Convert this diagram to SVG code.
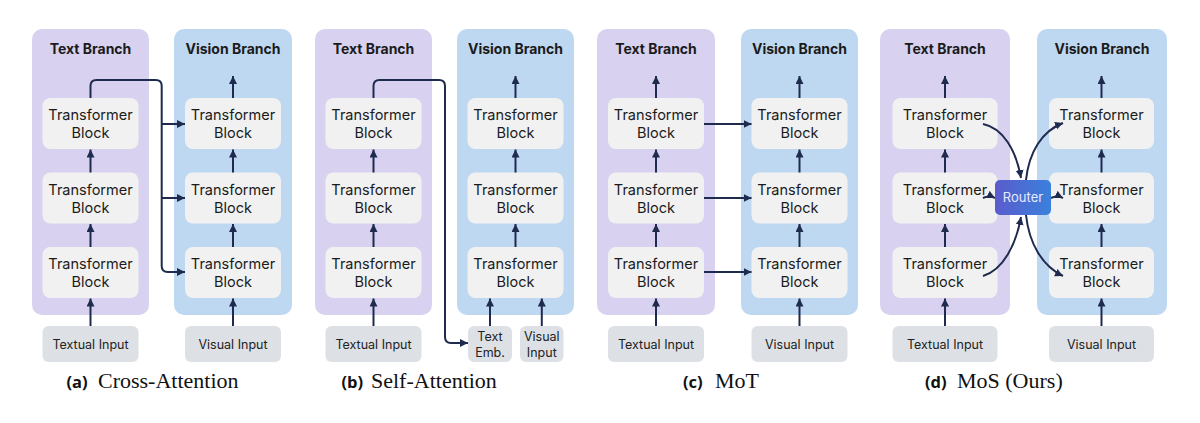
<svg xmlns="http://www.w3.org/2000/svg" width="1200" height="423" viewBox="0 0 1200 423">
<defs>
<marker id="ah" markerUnits="userSpaceOnUse" markerWidth="10" markerHeight="10" refX="8" refY="4" orient="auto">
<path d="M0,0 L8,4 L0,8 Z" fill="#1f2b4e"/>
</marker>
<linearGradient id="rg" x1="0" y1="0" x2="1" y2="0">
<stop offset="0" stop-color="#5a5ccc"/>
<stop offset="1" stop-color="#3a80dc"/>
</linearGradient>
<style>
.pt{fill:#d8d2f0}
.pv{fill:#bfd8f2}
.blk{fill:#f1f1f1}
.inp{fill:#dde1e5}
.ttl{font-family:Inter,"Noto Sans",sans-serif;font-weight:700;font-size:14px;fill:#1b1b1b;text-anchor:middle}
.lb{font-family:Inter,"Noto Sans",sans-serif;font-size:14.5px;fill:#1b1b1b;text-anchor:middle}
.il{font-family:Inter,"Noto Sans",sans-serif;font-size:12.5px;fill:#222;text-anchor:middle}
.ar{fill:none;stroke:#1f2b4e;stroke-width:2;marker-end:url(#ah)}
.cl{font-family:"Open Sans","Noto Sans",sans-serif;font-weight:700;font-size:16.5px;fill:#111}
.cs{font-family:"Liberation Serif",serif;font-size:22px;fill:#111}
.rt{font-family:Inter,"Noto Sans",sans-serif;font-size:13px;fill:#e6eaff;text-anchor:middle}
</style>
</defs>
<rect width="1200" height="423" fill="#ffffff"/>

<!-- Panel (a) -->
<g id="a-text-branch">
<rect class="pt" x="32" y="29" width="117" height="286" rx="10"/>
<text class="ttl" x="90.5" y="54">Text Branch</text>
</g>
<g id="a-vision-branch">
<rect class="pv" x="174" y="29" width="118" height="286" rx="10"/>
<text class="ttl" x="233" y="54">Vision Branch</text>
</g>
<g id="a-t1"><rect class="blk" x="42.5" y="98" width="96" height="51" rx="8"/><text class="lb" x="90.5" y="120">Transformer</text><text class="lb" x="90.5" y="138">Block</text></g>
<g id="a-t2"><rect class="blk" x="42.5" y="172.5" width="96" height="51" rx="8"/><text class="lb" x="90.5" y="194.5">Transformer</text><text class="lb" x="90.5" y="212.5">Block</text></g>
<g id="a-t3"><rect class="blk" x="42.5" y="247" width="96" height="51" rx="8"/><text class="lb" x="90.5" y="269">Transformer</text><text class="lb" x="90.5" y="287">Block</text></g>
<g id="a-v1"><rect class="blk" x="185" y="98" width="96" height="51" rx="8"/><text class="lb" x="233" y="120">Transformer</text><text class="lb" x="233" y="138">Block</text></g>
<g id="a-v2"><rect class="blk" x="185" y="172.5" width="96" height="51" rx="8"/><text class="lb" x="233" y="194.5">Transformer</text><text class="lb" x="233" y="212.5">Block</text></g>
<g id="a-v3"><rect class="blk" x="185" y="247" width="96" height="51" rx="8"/><text class="lb" x="233" y="269">Transformer</text><text class="lb" x="233" y="287">Block</text></g>
<g id="a-textual-input"><rect class="inp" x="42.5" y="326" width="96" height="36" rx="6"/><text class="il" x="90.5" y="349">Textual Input</text></g>
<g id="a-visual-input"><rect class="inp" x="185" y="326" width="96" height="36" rx="6"/><text class="il" x="233" y="349">Visual Input</text></g>

<!-- Panel (b) -->
<g id="b-text-branch">
<rect class="pt" x="315" y="29" width="117" height="286" rx="10"/>
<text class="ttl" x="373.5" y="54">Text Branch</text>
</g>
<g id="b-vision-branch">
<rect class="pv" x="457" y="29" width="117" height="286" rx="10"/>
<text class="ttl" x="515.5" y="54">Vision Branch</text>
</g>
<g id="b-t1"><rect class="blk" x="325.5" y="98" width="96" height="51" rx="8"/><text class="lb" x="373.5" y="120">Transformer</text><text class="lb" x="373.5" y="138">Block</text></g>
<g id="b-t2"><rect class="blk" x="325.5" y="172.5" width="96" height="51" rx="8"/><text class="lb" x="373.5" y="194.5">Transformer</text><text class="lb" x="373.5" y="212.5">Block</text></g>
<g id="b-t3"><rect class="blk" x="325.5" y="247" width="96" height="51" rx="8"/><text class="lb" x="373.5" y="269">Transformer</text><text class="lb" x="373.5" y="287">Block</text></g>
<g id="b-v1"><rect class="blk" x="467.5" y="98" width="96" height="51" rx="8"/><text class="lb" x="515.5" y="120">Transformer</text><text class="lb" x="515.5" y="138">Block</text></g>
<g id="b-v2"><rect class="blk" x="467.5" y="172.5" width="96" height="51" rx="8"/><text class="lb" x="515.5" y="194.5">Transformer</text><text class="lb" x="515.5" y="212.5">Block</text></g>
<g id="b-v3"><rect class="blk" x="467.5" y="247" width="96" height="51" rx="8"/><text class="lb" x="515.5" y="269">Transformer</text><text class="lb" x="515.5" y="287">Block</text></g>
<g id="b-textual-input"><rect class="inp" x="325.5" y="326" width="96" height="36" rx="6"/><text class="il" x="373.5" y="349">Textual Input</text></g>
<g id="b-text-emb"><rect class="inp" x="468" y="326" width="44" height="36" rx="6"/><text class="il" x="490" y="340.5">Text</text><text class="il" x="490" y="356.5">Emb.</text></g>
<g id="b-visual-input"><rect class="inp" x="520" y="326" width="43.5" height="36" rx="6"/><text class="il" x="541.8" y="340.5">Visual</text><text class="il" x="541.8" y="356.5">Input</text></g>

<!-- Panel (c) -->
<g id="c-text-branch">
<rect class="pt" x="597" y="29" width="118" height="286" rx="10"/>
<text class="ttl" x="656" y="54">Text Branch</text>
</g>
<g id="c-vision-branch">
<rect class="pv" x="741" y="29" width="117" height="286" rx="10"/>
<text class="ttl" x="799.5" y="54">Vision Branch</text>
</g>
<g id="c-t1"><rect class="blk" x="608" y="98" width="96" height="51" rx="8"/><text class="lb" x="656" y="120">Transformer</text><text class="lb" x="656" y="138">Block</text></g>
<g id="c-t2"><rect class="blk" x="608" y="172.5" width="96" height="51" rx="8"/><text class="lb" x="656" y="194.5">Transformer</text><text class="lb" x="656" y="212.5">Block</text></g>
<g id="c-t3"><rect class="blk" x="608" y="247" width="96" height="51" rx="8"/><text class="lb" x="656" y="269">Transformer</text><text class="lb" x="656" y="287">Block</text></g>
<g id="c-v1"><rect class="blk" x="751.5" y="98" width="96" height="51" rx="8"/><text class="lb" x="799.5" y="120">Transformer</text><text class="lb" x="799.5" y="138">Block</text></g>
<g id="c-v2"><rect class="blk" x="751.5" y="172.5" width="96" height="51" rx="8"/><text class="lb" x="799.5" y="194.5">Transformer</text><text class="lb" x="799.5" y="212.5">Block</text></g>
<g id="c-v3"><rect class="blk" x="751.5" y="247" width="96" height="51" rx="8"/><text class="lb" x="799.5" y="269">Transformer</text><text class="lb" x="799.5" y="287">Block</text></g>
<g id="c-textual-input"><rect class="inp" x="608" y="326" width="96" height="36" rx="6"/><text class="il" x="656" y="349">Textual Input</text></g>
<g id="c-visual-input"><rect class="inp" x="751.5" y="326" width="96" height="36" rx="6"/><text class="il" x="799.5" y="349">Visual Input</text></g>

<!-- Panel (d) -->
<g id="d-text-branch">
<rect class="pt" x="880" y="29" width="130" height="286" rx="10"/>
<text class="ttl" x="945" y="54">Text Branch</text>
</g>
<g id="d-vision-branch">
<rect class="pv" x="1037" y="29" width="130" height="286" rx="10"/>
<text class="ttl" x="1102" y="54">Vision Branch</text>
</g>
<g id="d-t1"><rect class="blk" x="892.5" y="98" width="105" height="51" rx="8"/><text class="lb" x="945" y="120">Transformer</text><text class="lb" x="945" y="138">Block</text></g>
<g id="d-t2"><rect class="blk" x="892.5" y="172.5" width="105" height="51" rx="8"/><text class="lb" x="945" y="194.5">Transformer</text><text class="lb" x="945" y="212.5">Block</text></g>
<g id="d-t3"><rect class="blk" x="892.5" y="247" width="105" height="51" rx="8"/><text class="lb" x="945" y="269">Transformer</text><text class="lb" x="945" y="287">Block</text></g>
<g id="d-v1"><rect class="blk" x="1049" y="98" width="105" height="51" rx="8"/><text class="lb" x="1101.5" y="120">Transformer</text><text class="lb" x="1101.5" y="138">Block</text></g>
<g id="d-v2"><rect class="blk" x="1049" y="172.5" width="105" height="51" rx="8"/><text class="lb" x="1101.5" y="194.5">Transformer</text><text class="lb" x="1101.5" y="212.5">Block</text></g>
<g id="d-v3"><rect class="blk" x="1049" y="247" width="105" height="51" rx="8"/><text class="lb" x="1101.5" y="269">Transformer</text><text class="lb" x="1101.5" y="287">Block</text></g>
<g id="d-textual-input"><rect class="inp" x="892.5" y="326" width="105" height="36" rx="6"/><text class="il" x="945" y="349">Textual Input</text></g>
<g id="d-visual-input"><rect class="inp" x="1049" y="326" width="105" height="36" rx="6"/><text class="il" x="1101.5" y="349">Visual Input</text></g>

<!-- Connectors -->
<g id="connectors">
<!-- (a) -->
<path class="ar" d="M90.5,326 V298.5"/>
<path class="ar" d="M90.5,247 V224"/>
<path class="ar" d="M90.5,172.5 V149.5"/>
<path class="ar" d="M233,326 V298.5"/>
<path class="ar" d="M233,247 V224"/>
<path class="ar" d="M233,172.5 V149.5"/>
<path class="ar" d="M233,98 V76"/>
<path class="ar" d="M90.5,98 V86 Q90.5,80 96.5,80 H155.7 Q161.7,80 161.7,86 V266 Q161.7,272 167.7,272 H185"/>
<path class="ar" d="M161.7,124 H185"/>
<path class="ar" d="M161.7,198 H185"/>
<!-- (b) -->
<path class="ar" d="M373.5,326 V298.5"/>
<path class="ar" d="M373.5,247 V224"/>
<path class="ar" d="M373.5,172.5 V149.5"/>
<path class="ar" d="M490,326 V298.5"/>
<path class="ar" d="M541.8,326 V298.5"/>
<path class="ar" d="M515.5,247 V224"/>
<path class="ar" d="M515.5,172.5 V149.5"/>
<path class="ar" d="M515.5,98 V76"/>
<path class="ar" d="M373.5,98 V86 Q373.5,80 379.5,80 H439 Q445,80 445,86 V337 Q445,343 451,343 H468"/>
<!-- (c) -->
<path class="ar" d="M656,326 V298.5"/>
<path class="ar" d="M656,247 V224"/>
<path class="ar" d="M656,172.5 V149.5"/>
<path class="ar" d="M656,98 V76"/>
<path class="ar" d="M799.5,326 V298.5"/>
<path class="ar" d="M799.5,247 V224"/>
<path class="ar" d="M799.5,172.5 V149.5"/>
<path class="ar" d="M799.5,98 V76"/>
<path class="ar" d="M704,124 H751.5"/>
<path class="ar" d="M704,198 H751.5"/>
<path class="ar" d="M704,272 H751.5"/>
<!-- (d) -->
<path class="ar" d="M945,326 V298.5"/>
<path class="ar" d="M945,247 V224"/>
<path class="ar" d="M945,172.5 V149.5"/>
<path class="ar" d="M945,98 V76"/>
<path class="ar" d="M1101.5,326 V298.5"/>
<path class="ar" d="M1101.5,247 V224"/>
<path class="ar" d="M1101.5,172.5 V149.5"/>
<path class="ar" d="M1101.5,98 V76"/>
<path class="ar" d="M983,124 C1003,128 1016,150 1021,178"/>
<path class="ar" d="M983,198 Q989,195 995,198"/>
<path class="ar" d="M983,276 C1003,270 1016,245 1021,217"/>
<path class="ar" d="M1026,180 C1029,152 1042,131 1063,123"/>
<path class="ar" d="M1051,198 Q1057,195 1063,198"/>
<path class="ar" d="M1026,215 C1029,243 1042,266 1063,276"/>
</g>

<g id="d-router">
<rect x="995" y="180" width="56" height="35" rx="5" fill="url(#rg)"/>
<text class="rt" x="1023" y="202">Router</text>
</g>

<!-- Captions -->
<g id="captions">
<text class="cl" x="66.5" y="388">(a)</text><text class="cs" x="98" y="388">Cross-Attention</text>
<text class="cl" x="341.5" y="388">(b)</text><text class="cs" x="371" y="388">Self-Attention</text>
<text class="cl" x="683" y="388">(c)</text><text class="cs" x="715" y="388">MoT</text>
<text class="cl" x="925" y="388">(d)</text><text class="cs" x="957" y="388">MoS (Ours)</text>
</g>
</svg>
